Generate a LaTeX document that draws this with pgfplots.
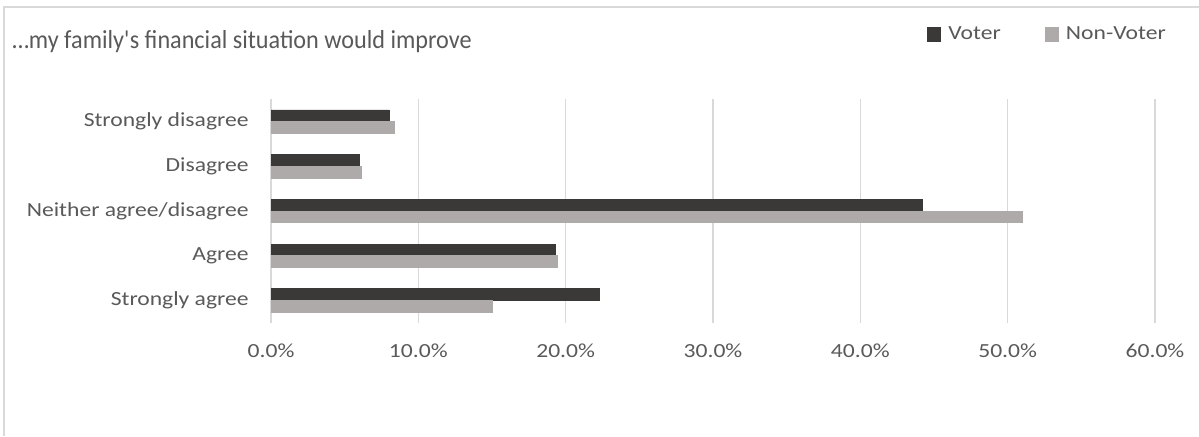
\documentclass[border=0pt]{standalone}
\usepackage{pgfplots}
\pgfplotsset{compat=1.18}
\usepackage{fontspec}
\setmainfont{Carlito}
\newfontfamily\labfont[FakeStretch=1.18]{Carlito}
\newfontfamily\titfont[FakeStretch=0.93]{Carlito}
\definecolor{txt}{HTML}{595959}
\definecolor{gridc}{HTML}{D9D9D9}
\definecolor{voter}{HTML}{3B3838}
\definecolor{nonvoter}{HTML}{AEAAAA}
\begin{document}
\begin{tikzpicture}[x=1pt,y=1pt]
\useasboundingbox (0,0) rectangle (899.25,327);
\draw[gridc,line width=1pt] (3,0) -- (3,321.75) -- (899.25,321.75);
\node[anchor=base west,text=txt,font=\titfont\fontsize{19.5}{23}\selectfont,inner sep=0pt] at (9,290.25) {…my family\textquotesingle s financial situation would improve};
\begin{axis}[
  at={(203.25pt,84.975pt)}, anchor=south west,
  scale only axis, width=663pt, height=167.55pt,
  xbar, bar width=8.75pt,
  xmin=0, xmax=0.6, ymin=-0.5, ymax=4.5,
  xtick={0,0.1,0.2,0.3,0.4,0.5,0.6},
  xticklabels={0.0\%,10.0\%,20.0\%,30.0\%,40.0\%,50.0\%,60.0\%},
  ytick={0,1,2,3,4},
  yticklabels={Strongly agree,Agree,Neither agree/disagree,Disagree,Strongly disagree},
  axis line style={draw=none},
  tick style={draw=none},
  xmajorgrids, ymajorgrids=false, grid style={draw=gridc,line width=1pt},
  ticklabel style={text=txt,font=\labfont\fontsize{15}{18}\selectfont},
  yticklabel style={xshift=-9pt},
  xticklabel style={yshift=-12pt},
  legend columns=2,
  legend style={draw=none, at={(1.02,1.291)}, anchor=east, font=\labfont\fontsize{15}{18}\selectfont, text=txt, /tikz/every even column/.append style={column sep=31pt}},
  legend image code/.code={\fill[#1] (0pt,-4.9pt) rectangle (9.75pt,4.9pt); \path (13.5pt,0pt);},
]
\addplot[fill=voter, draw=voter, bar shift=4.375pt] coordinates {(0.223,0) (0.193,1) (0.442,2) (0.060,3) (0.080,4)};
\addlegendentry{Voter}
\addplot[fill=nonvoter, draw=nonvoter, bar shift=-4.375pt] coordinates {(0.150,0) (0.194,1) (0.510,2) (0.061,3) (0.084,4)};
\addlegendentry{Non-Voter}
\end{axis}
\end{tikzpicture}
\end{document}
